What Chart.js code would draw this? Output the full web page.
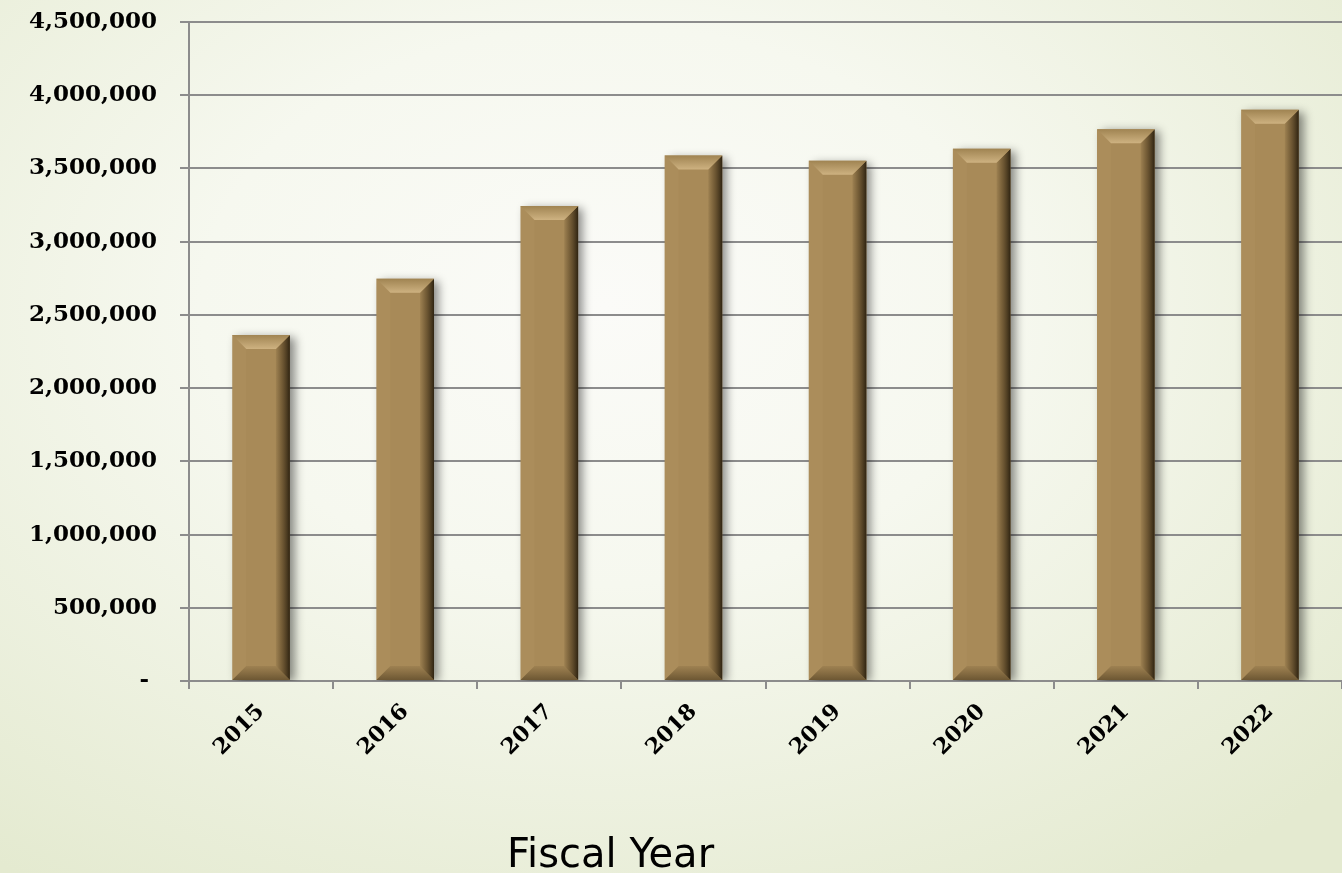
<!DOCTYPE html>
<html>
<head>
<meta charset="utf-8">
<script src="https://cdn.jsdelivr.net/npm/chart.js@4.4.0/dist/chart.umd.min.js"></script>
<style>
  html, body { margin: 0; padding: 0; }
  body {
    width: 1342px; height: 873px; overflow: hidden; position: relative;
    background: radial-gradient(ellipse 75% 80% at 45% 35%, #fbfbf8 0%, #f6f8ef 40%, #e4ead0 100%);
  }
  #wrap { position: absolute; left: 0; top: 0; width: 1342px; height: 873px; }
  #xTitle {
    position: absolute; left: 507px; top: 831px;
    font-family: "DejaVu Sans", sans-serif; font-size: 40px; color: #000;
    line-height: 44px; white-space: nowrap;
  }
</style>
</head>
<body>
<div id="wrap"><canvas id="chart"></canvas></div>
<div id="xTitle">Fiscal Year</div>
<script>
const years = ['2015', '2016', '2017', '2018', '2019', '2020', '2021', '2022'];
const revenue = [2363000, 2746000, 3244000, 3588000, 3552000, 3634000, 3768000, 3900000];
const yTickLabels = ['- ', '500,000', '1,000,000', '1,500,000', '2,000,000', '2,500,000',
  '3,000,000', '3,500,000', '4,000,000', '4,500,000'];

const barFill = '#a88a58';

// soft drop shadow behind the bars
const shadowPlugin = {
  id: 'barShadow',
  beforeDatasetDraw(chart) {
    const ctx = chart.ctx;
    ctx.save();
    ctx.shadowColor = 'rgba(0,0,0,0.45)';
    ctx.shadowBlur = 9;
    ctx.shadowOffsetX = 5;
    ctx.shadowOffsetY = 2;
  },
  afterDatasetDraw(chart) {
    chart.ctx.restore();
  }
};

// bevel edges drawn over each bar element
const bevelPlugin = {
  id: 'barBevel',
  afterDatasetsDraw(chart) {
    const ctx = chart.ctx;
    chart.getDatasetMeta(0).data.forEach(bar => {
      const l = bar.x - bar.width / 2, r = bar.x + bar.width / 2;
      const t = bar.y, b = bar.base;
      const e = 14;
      ctx.save();
      // left edge, barely lighter
      ctx.fillStyle = 'rgba(255,235,190,0.04)';
      ctx.beginPath();
      ctx.moveTo(l, t); ctx.lineTo(l + e, t + e); ctx.lineTo(l + e, b - e); ctx.lineTo(l, b);
      ctx.fill();
      // right edge, dark
      let g = ctx.createLinearGradient(r - e, 0, r, 0);
      g.addColorStop(0, 'rgba(70,52,25,0.10)');
      g.addColorStop(0.4, 'rgba(70,52,25,0.5)');
      g.addColorStop(1, 'rgba(40,30,14,0.95)');
      ctx.fillStyle = g;
      ctx.beginPath();
      ctx.moveTo(r, t); ctx.lineTo(r - e, t + e); ctx.lineTo(r - e, b - e); ctx.lineTo(r, b);
      ctx.fill();
      // bottom edge
      g = ctx.createLinearGradient(0, b - e, 0, b);
      g.addColorStop(0, 'rgba(70,52,25,0.10)');
      g.addColorStop(1, 'rgba(60,45,20,0.55)');
      ctx.fillStyle = g;
      ctx.beginPath();
      ctx.moveTo(l, b); ctx.lineTo(l + e, b - e); ctx.lineTo(r - e, b - e); ctx.lineTo(r, b);
      ctx.fill();
      // top edge
      g = ctx.createLinearGradient(0, t, 0, t + e);
      g.addColorStop(0, '#a08452');
      g.addColorStop(1, '#ceb281');
      ctx.fillStyle = g;
      ctx.beginPath();
      ctx.moveTo(l, t); ctx.lineTo(r, t); ctx.lineTo(r - e, t + e); ctx.lineTo(l + e, t + e);
      ctx.fill();
      ctx.restore();
    });
  }
};

const ctx = document.getElementById('chart').getContext('2d');
new Chart(ctx, {
  type: 'bar',
  data: {
    labels: years,
    datasets: [{
      data: revenue,
      backgroundColor: barFill,
      borderWidth: 0,
      categoryPercentage: 1,
      barPercentage: 0.4
    }]
  },
  options: {
    responsive: true,
    maintainAspectRatio: false,
    animation: false,
    layout: { padding: { top: 22, right: 0, bottom: 0, left: 0 } },
    plugins: {
      legend: { display: false },
      tooltip: { enabled: false }
    },
    scales: {
      x: {
        grid: {
          offset: true,
          drawOnChartArea: false,
          drawTicks: true,
          tickLength: 8,
          color: '#8c8c8c',
          lineWidth: 2
        },
        border: { display: true, color: '#8c8c8c', width: 2 },
        ticks: {
          color: '#000',
          font: { family: 'DejaVu Serif', size: 22, weight: 'bold' },
          minRotation: 45,
          maxRotation: 45,
          padding: 10
        },
        afterFit(axis) {
          axis.height = 192;
          axis.paddingRight = 0;
        }
      },
      y: {
        min: 0,
        max: 4500000,
        grid: {
          color: '#8c8c8c',
          lineWidth: 2,
          tickLength: 9
        },
        border: { display: true, color: '#8c8c8c', width: 2 },
        ticks: {
          stepSize: 500000,
          color: '#000',
          font: { family: 'DejaVu Serif', size: 23, weight: 'bold' },
          padding: 23,
          callback: (value, index) => yTickLabels[index]
        },
        afterFit(axis) {
          axis.width = 189;
          axis.paddingTop = 0;
          axis.paddingBottom = 0;
        }
      }
    }
  },
  plugins: [shadowPlugin, bevelPlugin]
});
</script>
</body>
</html>
